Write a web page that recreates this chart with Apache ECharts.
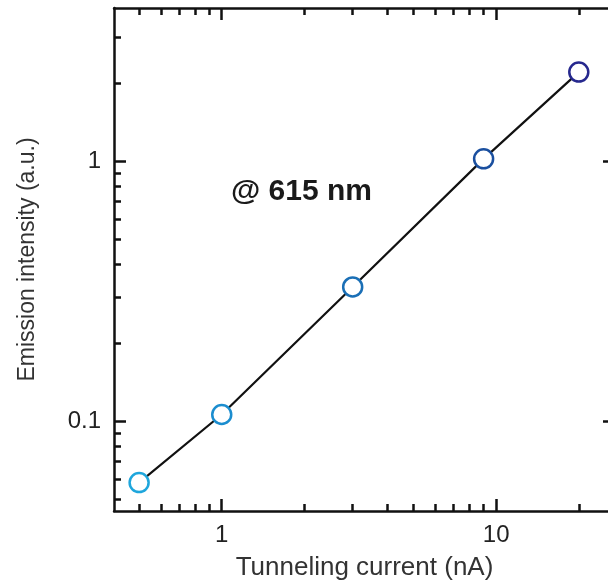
<!DOCTYPE html>
<html>
<head>
<meta charset="utf-8">
<script src="https://cdn.jsdelivr.net/npm/echarts@6/dist/echarts.min.js"></script>
<style>
  html, body { margin: 0; padding: 0; background: #fff; overflow: hidden; }
  /* plot frame runs past the right edge of the picture, as in the original figure */
  #chart { width: 616px; height: 586px; }
</style>
</head>
<body>
<div id="chart"></div>
<script>
// tunneling current (nA) vs emission intensity (a.u.)
var current = [0.5, 1, 3, 9, 20];
var intensity = [0.058, 0.106, 0.328, 1.02, 2.2];

var xMajor = [1, 10];
var xMinor = [0.5, 0.6, 0.7, 0.8, 0.9, 2, 3, 4, 5, 6, 7, 8, 9, 20];
var yMajor = [0.1, 1];
var yMinor = [0.05, 0.06, 0.07, 0.08, 0.09, 0.2, 0.3, 0.4, 0.5, 0.6, 0.7, 0.8, 0.9, 2, 3];

var pointColors = ['#1ea6dc', '#1b8dcf', '#1a6fb6', '#1a4f9f', '#26288e'];

var font = '"Liberation Sans", Arial, sans-serif';
var xRange = {min: 0.405, max: 27.1};
var yRange = {min: 0.0451, max: 3.88};

function axis(dim, pos, ticks, len, withLine, labels) {
	var a = {
		type: 'log',
		logBase: 10,
		position: pos,
		min: dim === 'x' ? xRange.min : yRange.min,
		max: dim === 'x' ? xRange.max : yRange.max,
		splitLine: {show: false},
		axisLine: {show: withLine, lineStyle: {color: '#111', width: 2.5}},
		axisTick: {show: true, inside: true, length: len, customValues: ticks,
			lineStyle: {color: '#111', width: 2.5}},
		axisLabel: {show: false}
	};
	if (labels) {
		a.axisLabel = {show: true, customValues: labels, color: '#222',
			fontSize: 24, fontFamily: font, margin: dim === 'x' ? 12 : 13,
			formatter: function (v) { return String(v); }};
	}
	return a;
}

var xAxes = [
	axis('x', 'bottom', xMajor, 12, true, xMajor),
	axis('x', 'bottom', xMinor, 7, false),
	axis('x', 'top', xMajor, 12, true),
	axis('x', 'top', xMinor, 7, false)
];
xAxes[0].name = 'Tunneling current (nA)';
xAxes[0].nameLocation = 'middle';
xAxes[0].nameGap = 44;
xAxes[0].nameTextStyle = {fontSize: 26, fontFamily: font, color: '#333'};

var yAxes = [
	axis('y', 'left', yMajor, 12, true, yMajor),
	axis('y', 'left', yMinor, 7, false),
	axis('y', 'right', yMajor, 12, true),
	axis('y', 'right', yMinor, 7, false)
];
yAxes[0].name = 'Emission intensity (a.u.)';
yAxes[0].nameLocation = 'middle';
yAxes[0].nameGap = 75;
yAxes[0].nameTextStyle = {fontSize: 23, fontFamily: font, color: '#333'};

var chart = echarts.init(document.getElementById('chart'), null, {renderer: 'canvas'});
chart.setOption({
	backgroundColor: '#fff',
	animation: false,
	grid: {left: 114, right: 1, top: 8, bottom: 75, containLabel: false},
	xAxis: xAxes,
	yAxis: yAxes,
	graphic: [{
		type: 'text',
		left: 231,
		top: 177,
		style: {text: '@ 615 nm', font: 'bold 30px ' + font, fill: '#1a1a1a'}
	}],
	series: [{
		type: 'line',
		xAxisIndex: 0,
		yAxisIndex: 0,
		data: current.map(function (c, i) {
			return {
				value: [c, intensity[i]],
				itemStyle: {color: '#fff', borderColor: pointColors[i], borderWidth: 2.5}
			};
		}),
		symbol: 'circle',
		symbolSize: 19,
		showAllSymbol: true,
		lineStyle: {color: '#111', width: 2.2},
		z: 3
	}]
});
</script>
</body>
</html>
